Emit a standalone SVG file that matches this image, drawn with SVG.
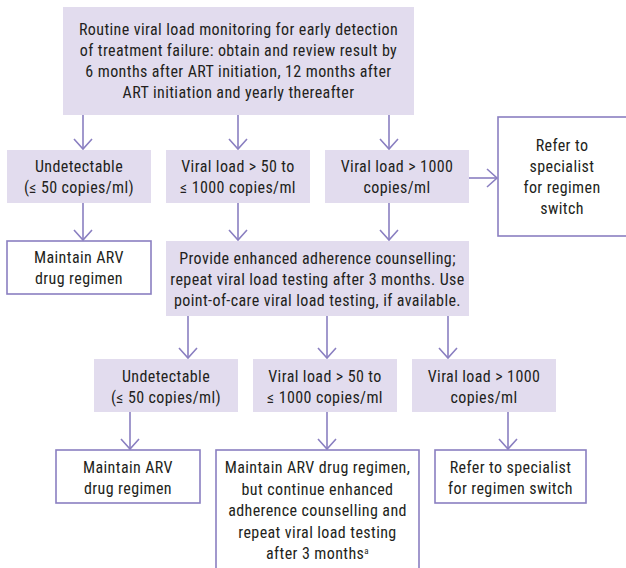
<svg xmlns="http://www.w3.org/2000/svg" width="626" height="568" viewBox="0 0 626 568">
<style>
.f{fill:#e2dcee}
.o{fill:#ffffff;stroke:#8a7fc1;stroke-width:1.6}
.t{font-family:"Liberation Sans Narrow","Roboto Condensed","DejaVu Sans Condensed","Liberation Sans",sans-serif;font-stretch:condensed;font-size:16px;letter-spacing:0.4px;fill:#231f20;text-anchor:middle}
.c{fill:none;stroke:#8a7fc1;stroke-width:1.6}
</style>
<defs>
<marker id="a" markerUnits="userSpaceOnUse" markerWidth="24" markerHeight="24" refX="12" refY="12" orient="auto" viewBox="0 0 24 24">
<polyline points="2,3 12,12 2,21" fill="none" stroke="#8a7fc1" stroke-width="1.6"/>
</marker>
</defs>
<g id="connectors">
<line class="c" x1="83" y1="115" x2="83" y2="149" marker-end="url(#a)"/>
<line class="c" x1="238" y1="115" x2="238" y2="149" marker-end="url(#a)"/>
<line class="c" x1="389" y1="115" x2="389" y2="149" marker-end="url(#a)"/>
<line class="c" x1="469" y1="178" x2="497" y2="178" marker-end="url(#a)"/>
<line class="c" x1="83" y1="203" x2="83" y2="240" marker-end="url(#a)"/>
<line class="c" x1="238" y1="203" x2="238" y2="240" marker-end="url(#a)"/>
<line class="c" x1="389" y1="203" x2="389" y2="240" marker-end="url(#a)"/>
<line class="c" x1="188" y1="316" x2="188" y2="358" marker-end="url(#a)"/>
<line class="c" x1="327" y1="316" x2="327" y2="358" marker-end="url(#a)"/>
<line class="c" x1="448" y1="316" x2="448" y2="358" marker-end="url(#a)"/>
<line class="c" x1="130" y1="412" x2="130" y2="449" marker-end="url(#a)"/>
<line class="c" x1="327" y1="412" x2="327" y2="449" marker-end="url(#a)"/>
<line class="c" x1="508" y1="412" x2="508" y2="449" marker-end="url(#a)"/>
</g>
<g id="top">
<rect class="f" x="63" y="7" width="351" height="108"/>
<text class="t" x="238.5" y="35">Routine viral load monitoring for early detection</text>
<text class="t" x="238.5" y="56">of treatment failure: obtain and review result by</text>
<text class="t" x="238.5" y="77">6 months after ART initiation, 12 months after</text>
<text class="t" x="238.5" y="98">ART initiation and yearly thereafter</text>
</g>
<g id="undet1">
<rect class="f" x="7" y="150" width="144" height="53"/>
<text class="t" x="79" y="172">Undetectable</text>
<text class="t" x="79" y="193">(≤ 50 copies/ml)</text>
</g>
<g id="mid1">
<rect class="f" x="166" y="150" width="144" height="53"/>
<text class="t" x="238" y="172">Viral load &gt; 50 to</text>
<text class="t" x="238" y="193">≤ 1000 copies/ml</text>
</g>
<g id="high1">
<rect class="f" x="325" y="150" width="144" height="53"/>
<text class="t" x="397" y="172">Viral load &gt; 1000</text>
<text class="t" x="397" y="193">copies/ml</text>
</g>
<g id="refer1">
<rect class="o" x="498" y="117" width="132" height="119"/>
<text class="t" x="562" y="151">Refer to</text>
<text class="t" x="562" y="172">specialist</text>
<text class="t" x="562" y="193">for regimen</text>
<text class="t" x="562" y="214">switch</text>
</g>
<g id="maintain1">
<rect class="o" x="7" y="241" width="144" height="53"/>
<text class="t" x="79" y="263">Maintain ARV</text>
<text class="t" x="79" y="284">drug regimen</text>
</g>
<g id="counsel">
<rect class="f" x="166" y="241" width="303" height="75"/>
<text class="t" x="317.5" y="264">Provide enhanced adherence counselling;</text>
<text class="t" x="317.5" y="285">repeat viral load testing after 3 months. Use</text>
<text class="t" x="317.5" y="306">point-of-care viral load testing, if available.</text>
</g>
<g id="undet2">
<rect class="f" x="94" y="359" width="144" height="53"/>
<text class="t" x="166" y="382">Undetectable</text>
<text class="t" x="166" y="403">(≤ 50 copies/ml)</text>
</g>
<g id="mid2">
<rect class="f" x="253" y="359" width="144" height="53"/>
<text class="t" x="325" y="382">Viral load &gt; 50 to</text>
<text class="t" x="325" y="403">≤ 1000 copies/ml</text>
</g>
<g id="high2">
<rect class="f" x="412" y="359" width="144" height="53"/>
<text class="t" x="484" y="382">Viral load &gt; 1000</text>
<text class="t" x="484" y="403">copies/ml</text>
</g>
<g id="maintain2">
<rect class="o" x="56" y="450" width="144" height="53"/>
<text class="t" x="128" y="473">Maintain ARV</text>
<text class="t" x="128" y="494">drug regimen</text>
</g>
<g id="maintain3">
<rect class="o" x="216" y="450" width="203" height="125"/>
<text class="t" x="317.5" y="473">Maintain ARV drug regimen,</text>
<text class="t" x="317.5" y="494.5">but continue enhanced</text>
<text class="t" x="317.5" y="516">adherence counselling and</text>
<text class="t" x="317.5" y="537.5">repeat viral load testing</text>
<text class="t" x="317.5" y="559">after 3 months<tspan font-size="9" dy="-5">a</tspan></text>
</g>
<g id="refer2">
<rect class="o" x="435" y="450" width="151" height="53"/>
<text class="t" x="510.5" y="473">Refer to specialist</text>
<text class="t" x="510.5" y="494">for regimen switch</text>
</g>
</svg>
